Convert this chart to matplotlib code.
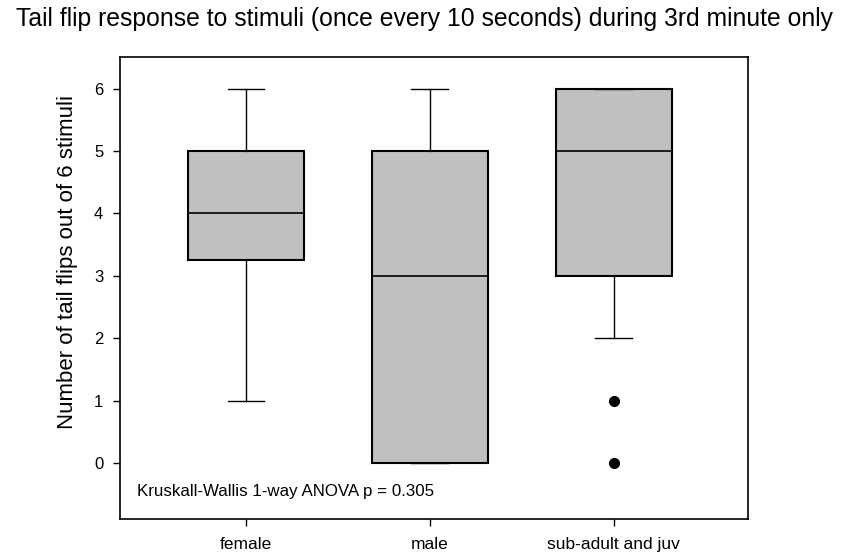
import matplotlib
matplotlib.use("Agg")
import matplotlib.pyplot as plt

plt.rcParams['font.family'] = ['Liberation Sans', 'DejaVu Sans']

groups = ['female', 'male', 'sub-adult and juv']
whisker_low = [1, 0, 2]
q1 = [3.25, 0, 3]
median = [4, 3, 5]
q3 = [5, 5, 6]
whisker_high = [6, 6, 6]
outliers = [[], [], [0, 1]]


def main():
    stats = []
    for i, g in enumerate(groups):
        stats.append(dict(label=g, whislo=whisker_low[i], q1=q1[i], med=median[i],
                          q3=q3[i], whishi=whisker_high[i], fliers=outliers[i]))

    fig = plt.figure(figsize=(8.48, 5.53), dpi=100)
    ax = fig.add_axes([120 / 848, 1 - 519 / 553, 628 / 848, 462 / 553])
    ax.bxp(stats, widths=0.63, patch_artist=True, showcaps=True,
           boxprops=dict(facecolor='#c0c0c0', edgecolor='black', linewidth=1.5),
           medianprops=dict(color='black', linewidth=1.2),
           whiskerprops=dict(color='black', linewidth=1),
           capprops=dict(color='black', linewidth=1),
           capwidths=0.2,
           flierprops=dict(marker='o', markerfacecolor='black', markeredgecolor='black',
                           markersize=7))
    ax.set_xlim(0.315, 3.73)
    ax.set_ylim(-0.9, 6.51)
    ax.set_yticks(range(7))
    ax.tick_params(direction='out', length=5, width=1)
    ax.tick_params(axis='y', labelsize=12, pad=7)
    ax.tick_params(axis='x', labelsize=12.5, pad=8)
    for s in ax.spines.values():
        s.set_linewidth(1.2)
    ax.set_ylabel('Number of tail flips out of 6 stimuli', fontsize=16)
    ax.yaxis.set_label_coords(-0.067, 0.556)
    ax.text(0.027, 0.059, 'Kruskall-Wallis 1-way ANOVA p = 0.305', transform=ax.transAxes,
            fontsize=12.2, va='center')
    fig.text(0.5, 1 - 19 / 553,
             'Tail flip response to stimuli (once every 10 seconds) during 3rd minute only',
             ha='center', va='center', fontsize=17.8)
    fig.savefig('out.png', dpi=100)


if __name__ == '__main__':
    main()
